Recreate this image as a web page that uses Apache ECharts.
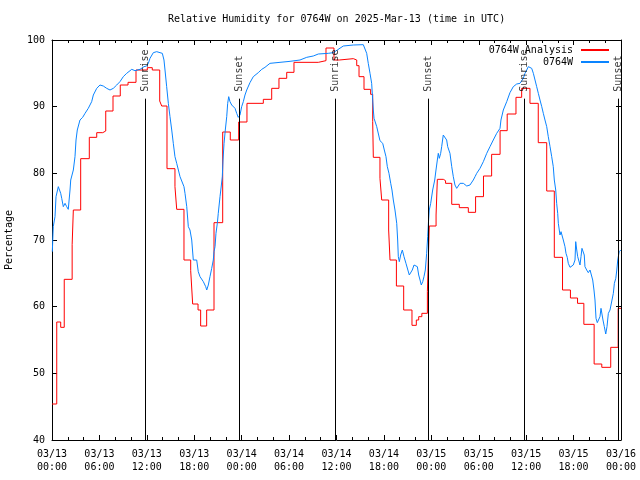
<!DOCTYPE html>
<html><head><meta charset="utf-8">
<script src="https://cdn.jsdelivr.net/npm/echarts@6/dist/echarts.min.js"></script>
<style>html,body{margin:0;padding:0;background:#fff}#c{width:640px;height:480px}</style>
</head><body><div id="c"></div>
<script>
const titleText = 'Relative Humidity for 0764W on 2025-Mar-13 (time in UTC)';
const yAxisName = 'Percentage';
const xTickLabels = ['03/13\n00:00','03/13\n06:00','03/13\n12:00','03/13\n18:00','03/14\n00:00','03/14\n06:00','03/14\n12:00','03/14\n18:00','03/15\n00:00','03/15\n06:00','03/15\n12:00','03/15\n18:00','03/16\n00:00'];

// Hours since 03/13 00:00 UTC
const redName = '0764W Analysis';
const redTimes = [0.00,0.60,1.10,1.55,2.55,2.70,3.63,4.72,5.66,6.42,6.80,7.72,8.64,9.62,10.63,12.06,12.69,13.63,13.88,14.55,15.56,15.78,16.70,17.55,17.80,18.48,18.81,19.57,20.50,21.60,22.56,23.62,24.67,26.74,27.80,28.72,29.70,30.62,33.70,34.67,35.68,36.35,38.13,38.56,38.85,39.48,40.32,40.58,40.66,41.50,41.72,42.60,42.77,43.58,44.50,45.55,46.10,46.40,46.80,47.50,47.74,48.60,48.76,49.52,49.80,50.58,51.54,52.68,53.60,54.60,55.63,56.70,57.60,58.71,59.43,60.48,61.53,62.60,63.56,64.60,65.60,66.50,67.30,68.60,69.57,70.70,71.64,72.00];
const redValues = [45.4,57.7,56.9,64.1,69.3,74.5,82.2,85.4,86.1,86.35,89.35,91.6,93.25,93.65,95.5,95.85,95.5,90.85,90.1,80.7,78.0,74.6,67.0,65.4,60.4,59.5,57.1,59.5,72.6,86.2,85.0,87.7,90.5,91.1,92.75,94.25,95.15,96.65,96.9,98.8,97.0,97.2,97.0,96.15,94.5,92.6,91.85,87.75,82.4,79.25,76.0,71.5,67.0,63.1,59.5,57.2,58.0,58.5,59.0,62.25,72.1,73.75,79.1,78.9,78.5,75.35,74.85,74.15,76.5,79.6,82.85,86.4,88.9,91.4,92.75,90.5,84.6,77.35,67.4,62.5,61.3,60.5,57.35,51.4,50.9,53.9,59.75,59.75];

const blueName = '0764W';
const blueTimes = [0.04,0.16,0.38,0.51,0.80,0.92,1.10,1.23,1.43,1.65,1.86,2.06,2.28,2.37,2.70,2.91,3.04,3.20,3.54,3.88,4.18,4.59,5.02,5.23,5.66,6.07,6.49,6.92,7.34,7.76,8.19,8.60,9.02,9.45,10.09,10.50,11.14,11.64,11.98,12.19,12.40,12.82,13.25,13.67,13.96,14.17,14.30,14.51,14.72,14.93,15.15,15.35,15.56,15.78,16.20,16.70,16.83,17.05,17.25,17.46,17.68,17.88,18.31,18.51,18.73,19.15,19.45,19.58,19.78,19.99,20.21,20.41,20.50,20.63,20.75,20.92,21.04,21.26,21.39,21.55,21.64,21.77,21.93,22.11,22.23,22.36,22.52,22.74,22.94,23.16,23.37,23.57,23.70,23.79,24.00,24.21,24.42,24.64,25.05,25.47,25.69,26.10,26.54,26.95,27.58,28.85,30.12,31.38,32.23,33.06,33.70,34.96,35.59,36.10,36.86,38.13,39.39,39.61,39.82,40.02,40.24,40.45,40.58,40.66,40.75,41.09,41.50,41.85,42.05,42.26,42.43,42.64,42.86,43.02,43.19,43.40,43.62,43.74,43.82,43.95,44.12,44.33,44.54,44.79,45.01,45.21,45.39,45.59,45.81,46.06,46.23,46.40,46.57,46.73,46.91,47.07,47.24,47.41,47.54,47.64,47.74,47.92,48.17,48.43,48.59,48.76,48.88,49.01,49.18,49.31,49.51,49.73,49.94,50.07,50.24,50.36,50.58,50.78,50.99,51.21,51.41,51.63,51.84,52.05,52.26,52.48,52.68,52.89,53.11,53.31,53.53,53.74,54.16,54.37,54.58,55.01,55.42,55.84,56.27,56.69,56.81,57.11,57.54,57.95,58.37,58.80,59.22,59.44,59.64,59.85,60.07,60.27,60.49,60.70,60.91,61.12,61.33,61.54,61.75,61.97,62.17,62.38,62.60,62.80,63.02,63.23,63.43,63.56,63.74,63.86,63.99,64.07,64.19,64.28,64.41,64.53,64.70,64.91,65.04,65.20,65.33,65.55,65.76,65.96,66.18,66.27,66.40,66.52,66.69,66.81,66.94,67.06,67.23,67.35,67.44,67.66,67.86,68.08,68.29,68.42,68.58,68.71,68.84,69.00,69.22,69.34,69.47,69.60,69.72,69.89,70.07,70.23,70.40,70.61,70.83,71.03,71.16,71.34,71.47,71.59,71.77,71.98];
const blueValues = [68.25,72.0,73.5,76.5,78.0,78.25,77.0,76.25,75.0,75.5,75.0,74.6,77.5,79.0,80.5,82.5,85.0,86.5,88.0,88.4,89.0,89.75,90.75,91.75,92.75,93.25,93.1,92.75,92.5,92.75,93.25,93.75,94.5,95.0,95.6,95.4,95.6,96.0,96.1,96.5,97.25,98.1,98.25,98.1,98.0,97.0,95.5,93.0,90.5,88.5,86.5,84.5,82.5,81.5,79.5,78.0,77.0,75.0,72.0,71.5,70.0,67.0,67.0,65.25,64.5,63.75,63.0,62.5,63.25,64.5,65.75,67.0,68.25,69.0,71.0,72.5,74.0,76.5,77.8,79.5,82.0,84.5,86.5,88.5,90.5,91.5,90.75,90.25,90.4,89.75,89.0,88.4,88.25,88.75,90.0,90.75,91.75,92.5,93.6,94.5,94.75,95.1,95.6,95.9,96.5,96.65,96.8,97.0,97.4,97.6,97.9,98.0,98.1,98.5,99.1,99.25,99.3,99.0,98.0,96.5,95.0,93.5,91.0,89.5,88.25,87.0,84.9,84.5,83.5,82.5,81.0,80.0,78.5,77.5,76.0,74.5,72.5,70.0,67.5,66.75,67.75,68.5,67.5,66.5,66.25,64.75,64.5,65.5,66.25,66.5,66.0,64.75,64.0,63.25,63.75,64.5,65.5,68.0,70.5,72.75,74.5,75.5,77.5,79.0,80.5,82.0,83.0,82.25,83.0,84.0,85.75,85.9,85.0,84.0,83.9,83.0,81.0,79.5,78.25,77.75,77.9,78.5,78.75,78.5,78.25,78.1,78.1,78.25,78.5,79.0,79.5,80.0,80.75,81.0,81.75,83.0,84.0,85.0,86.0,86.75,88.0,89.5,90.75,92.1,93.0,93.4,93.5,93.6,94.25,95.0,95.5,96.0,95.9,95.75,95.0,94.0,93.0,92.0,91.0,90.0,89.0,88.0,87.0,85.5,84.0,82.5,81.0,79.0,77.5,75.5,74.0,72.5,71.5,70.75,71.25,71.0,70.0,69.0,68.0,67.4,66.5,65.9,65.9,66.25,67.0,69.75,68.5,67.5,67.6,66.25,67.5,68.75,69.0,67.75,66.0,65.5,65.1,65.5,65.6,64.0,62.5,61.0,58.25,57.6,57.6,58.5,59.75,59.5,58.0,57.0,55.9,57.0,59.0,59.5,59.75,62.0,63.5,64.25,65.5,67.0,68.25,68.5];

const sunTimes = [11.81, 23.70, 35.87, 47.62, 59.77, 71.68];
const sunLabels = ['Sunrise', 'Sunset', 'Sunrise', 'Sunset', 'Sunrise', 'Sunset'];
const sunLineTop = 91.2;

const FONT = 'DejaVu Sans Mono';
const pair = (ts, vs) => ts.map((t, i) => [t, vs[i]]);

const chart = echarts.init(document.getElementById('c'), null, {renderer: 'canvas'});
const xCommon = {
  type: 'value', min: 0, max: 72, interval: 6,
  axisLine: {show: true, onZero: false, lineStyle: {color: '#000', width: 1}},
  axisTick: {show: true, inside: true, length: 5, lineStyle: {color: '#000'}},
  minorTick: {show: true, splitNumber: 3, length: 3, lineStyle: {color: '#000'}},
  splitLine: {show: false}, minorSplitLine: {show: false}
};
const yCommon = {
  type: 'value', min: 40, max: 100, interval: 10,
  axisLine: {show: true, onZero: false, lineStyle: {color: '#000', width: 1}},
  axisTick: {show: true, inside: true, length: 5, lineStyle: {color: '#000'}},
  splitLine: {show: false}
};
chart.setOption({
  animation: false,
  backgroundColor: '#fff',
  title: {
    text: titleText, left: 168, top: 14, padding: 0,
    textStyle: {fontFamily: FONT, fontSize: 10, fontWeight: 'normal', color: '#000'}
  },
  grid: {left: 52, right: 19, top: 40, bottom: 40, containLabel: false, outerBoundsMode: 'none'},
  legend: {
    data: [redName, blueName], orient: 'vertical', align: 'right',
    right: 30, top: 45, padding: 0, itemGap: 2, itemWidth: 28, itemHeight: 10,
    itemStyle: {opacity: 0},
    textStyle: {fontFamily: FONT, fontSize: 10, color: '#000', padding: [0, 3, 0, 0]},
    selectedMode: false
  },
  xAxis: [
    Object.assign({}, xCommon, {
      position: 'bottom',
      axisLabel: {
        show: true, margin: 8, fontFamily: FONT, fontSize: 10, color: '#000', lineHeight: 13,
        formatter: v => xTickLabels[Math.round(v / 6)]
      }
    }),
    Object.assign({}, xCommon, {position: 'top', axisLabel: {show: false}})
  ],
  yAxis: [
    Object.assign({}, yCommon, {
      position: 'left',
      name: yAxisName, nameLocation: 'middle', nameGap: 38, nameRotate: 90,
      nameTextStyle: {fontFamily: FONT, fontSize: 10, color: '#000'},
      axisLabel: {show: true, margin: 7, fontFamily: FONT, fontSize: 10, color: '#000'}
    }),
    Object.assign({}, yCommon, {position: 'right', axisLabel: {show: false}})
  ],
  series: [
    {
      name: redName, type: 'line', step: 'end', symbol: 'none',
      data: pair(redTimes, redValues),
      lineStyle: {color: '#ff0000', width: 1}, itemStyle: {color: '#ff0000'},
      silent: true, z: 2
    },
    {
      name: blueName, type: 'line', symbol: 'none',
      data: pair(blueTimes, blueValues),
      lineStyle: {color: '#0a84ff', width: 1}, itemStyle: {color: '#0a84ff'},
      silent: true, z: 3
    },
    {
      name: 'sun', type: 'scatter', symbolSize: 0, silent: true, z: 4,
      data: sunTimes.map((t, i) => ({value: [t, sunLineTop], name: sunLabels[i]})),
      label: {
        show: true, formatter: '{b}', position: 'inside', rotate: 90,
        align: 'left', verticalAlign: 'middle', offset: [7, 0],
        fontFamily: FONT, fontSize: 10, color: '#000'
      },
      markLine: {
        silent: true, symbol: ['none', 'none'], animation: false,
        label: {show: false},
        lineStyle: {color: '#000', width: 1, type: 'solid'},
        emphasis: {disabled: true},
        data: sunTimes.map(t => [{coord: [t, 40]}, {coord: [t, sunLineTop]}])
      }
    }
  ]
});
</script>
</body></html>
